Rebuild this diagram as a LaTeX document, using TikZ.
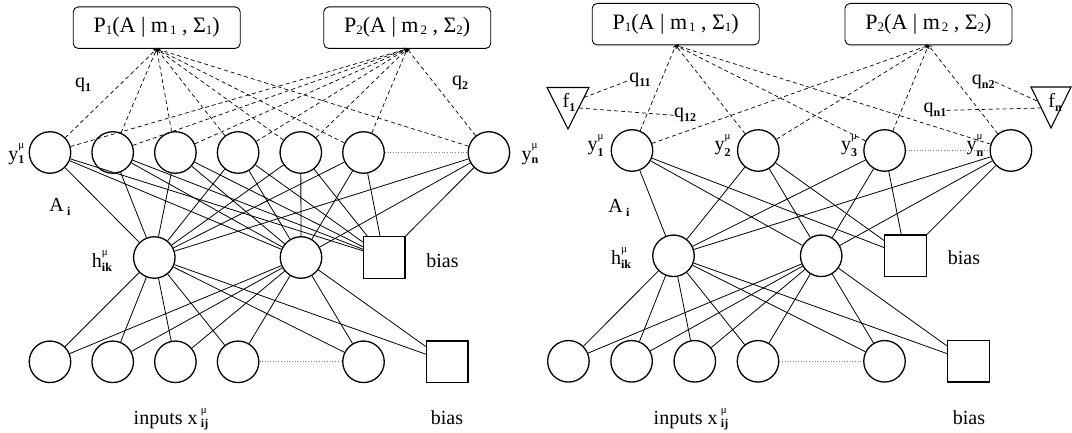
\documentclass[tikz,border=0pt]{standalone}
\usepackage{fontspec}
\setmainfont{Liberation Serif}
\usetikzlibrary{arrows.meta}
\newcommand\smf{\fontsize{12}{12}\selectfont}
\newcommand\mus{\fontsize{11}{11}\selectfont}
% base, sup, sub, raise, lower
\newcommand\supsub[5]{#1\rlap{\raisebox{#4}{\mus #2}}\raisebox{-#5}{\smf\bfseries #3}}
\newcommand\subb[2]{#1\raisebox{-4pt}{\smf\bfseries #2}}
\newcommand\psub[1]{\raisebox{-2pt}{\fontsize{13}{13}\selectfont #1}}
\newcommand\ptext[1]{P\psub{#1}(A | m\kern2pt\psub{#1} , Σ\psub{#1})}
\begin{document}
\begin{tikzpicture}[x=1pt,y=-1pt,font=\fontsize{20}{24}\selectfont,
  neuron/.style={circle,draw,line width=1.3pt,minimum size=41.5pt,inner sep=0pt},
  biasbox/.style={rectangle,draw,line width=1.3pt,minimum size=41.5pt,inner sep=0pt},
  pbox/.style={rectangle,rounded corners=5pt,draw,line width=0.9pt,minimum width=167pt,minimum height=41.5pt,inner sep=0pt,font=\fontsize{22}{26}\selectfont},
  conn/.style={line width=0.8pt},
  dasharrow/.style={line width=0.7pt,dash pattern=on 4pt off 3pt,-{To[length=3pt,width=4pt]}},
  dashline/.style={line width=0.7pt,dash pattern=on 4pt off 3pt},
  dotline/.style={line width=0.7pt,gray,dotted},
  tri/.style={line width=1.1pt,line join=miter},
  lbl/.style={inner sep=0pt,anchor=base}]
\useasboundingbox (0,0) rectangle (1072,433);

% ---------------- LEFT PANEL ----------------
\node[pbox] (LP1) at (156.7,27.7) {\ptext{1}};
\node[pbox] (LP2) at (407.2,27.7) {\ptext{2}};

\foreach \n/\x in {1/50,2/112.7,3/175.4,4/238.1,5/300.8,6/363.5,7/488.9}
  \node[neuron] (L\n) at (\x,152.5) {};
\node[neuron] (LH1) at (154.3,257.5) {};
\node[neuron] (LH2) at (301,257.5) {};
\node[biasbox] (LB) at (384.3,257.5) {};
\foreach \n/\x in {1/50,2/112.7,3/175.4,4/238.1,5/363.5}
  \node[neuron] (LI\n) at (\x,361.8) {};
\node[biasbox] (LIB) at (447.2,361.8) {};

\foreach \n in {1,...,7}{
  \draw[conn] (L\n) -- (LH1);
  \draw[conn] (L\n) -- (LH2);
  \draw[conn] (L\n) -- (LB);
  \draw[dasharrow] (L\n) -- (LP1.south);
  \draw[dasharrow] (L\n) -- (LP2.south);
}
\foreach \h in {LH1,LH2}{
  \foreach \n in {1,...,5} \draw[conn] (\h) -- (LI\n);
  \draw[conn] (\h) -- (LIB);
}
\draw[dotline] (L6) -- (L7);
\draw[dotline] (LI4) -- (LI5);

\node[lbl] (Ly1) at (16.4,161) {\supsub{y}{μ}{1}{13pt}{3pt}};
\node[lbl] (Lyn) at (530,161) {\supsub{y}{μ}{n}{13pt}{3pt}};
\node[lbl] (LA) at (60,211.5) {A\,\raisebox{-4pt}{\smf\bfseries i}};
\node[lbl] (Lh) at (102,267.5) {\supsub{h}{μ}{ik}{12pt}{4pt}};
\node[lbl] (Lbias) at (442.5,267.5) {bias};
\node[lbl] (Lq1) at (83,87.5) {\subb{q}{1}};
\node[lbl] (Lq2) at (460,86) {\subb{q}{2}};
\node[lbl] (Linp) at (171,424.5) {inputs x\,\supsub{}{μ}{ij}{11pt}{2.5pt}};
\node[lbl] (Lbias2) at (447,424.5) {bias};

% ---------------- RIGHT PANEL ----------------
\node[pbox] (RP1) at (675.7,24.2) {\ptext{1}};
\node[pbox] (RP2) at (928.5,24.2) {\ptext{2}};

\foreach \n/\x in {1/632,2/758.3,3/884.6,4/1010.9}
  \node[neuron] (R\n) at (\x,150.5) {};
\node[neuron] (RH1) at (673.5,255.8) {};
\node[neuron] (RH2) at (821.2,255.8) {};
\node[biasbox] (RB) at (905.5,255.8) {};
\foreach \n/\x in {1/568.4,2/631.6,3/694.8,4/758,5/884.5}
  \node[neuron] (RI\n) at (\x,361.3) {};
\node[biasbox] (RIB) at (968.5,361.3) {};

\foreach \n in {1,...,4}{
  \draw[conn] (R\n) -- (RH1);
  \draw[conn] (R\n) -- (RH2);
  \draw[conn] (R\n) -- (RB);
  \draw[dasharrow] (R\n) -- (RP1.south);
  \draw[dasharrow] (R\n) -- (RP2.south);
}
\foreach \h in {RH1,RH2}{
  \foreach \n in {1,...,5} \draw[conn] (\h) -- (RI\n);
  \draw[conn] (\h) -- (RIB);
}
\draw[dotline] (R3) -- (R4);
\draw[dotline] (RI4) -- (RI5);

% triangles
\draw[tri] (547,87.5) -- (589,87.5) -- (568,129) -- cycle;
\draw[tri] (1031,87) -- (1071,87) -- (1051,128) -- cycle;
\node[lbl] (F1) at (569,108) {\subb{f}{1}};
\node[lbl] (Fn) at (1055,108) {\subb{f}{n}};
\coordinate (f1a) at (584,97.5);
\coordinate (f1b) at (579,108);
\coordinate (fna) at (1037,101);
\coordinate (fnb) at (1041,108);

\node[lbl] (q11) at (640,83) {\subb{q}{11}};
\node[lbl] (q12) at (685,118) {\subb{q}{12}};
\node[lbl] (qn2) at (983.3,84.5) {\subb{q}{n2}};
\node[lbl] (qn1) at (935,113) {\subb{q}{n1}};
\draw[dashline] (f1a) -- (q11.west);
\draw[dashline] (f1b) -- (q12.west);
\draw[dashline] (qn2.east) -- (fna);
\draw[dashline] (qn1.east) -- (fnb);

\node[lbl] (Ry1) at (595.5,151) {\supsub{y}{μ}{1}{11pt}{6pt}};
\node[lbl] (Ry2) at (722.5,151) {\supsub{y}{μ}{2}{11pt}{6pt}};
\node[lbl] (Ry3) at (849,151) {\supsub{y}{μ}{3}{11pt}{6pt}};
\node[lbl] (Ryn) at (975,151) {\supsub{y}{μ}{n}{11pt}{6pt}};
\node[lbl] (RA) at (619,213) {A\,\raisebox{-4pt}{\smf\bfseries i}};
\node[lbl] (Rh) at (621,264) {\supsub{h}{μ}{ik}{12pt}{4pt}};
\node[lbl] (Rbias) at (964,265) {bias};
\node[lbl] (Rinp) at (691,424.5) {inputs x\,\supsub{}{μ}{ij}{11pt}{2.5pt}};
\node[lbl] (Rbias2) at (969,424.5) {bias};
\end{tikzpicture}
\end{document}
